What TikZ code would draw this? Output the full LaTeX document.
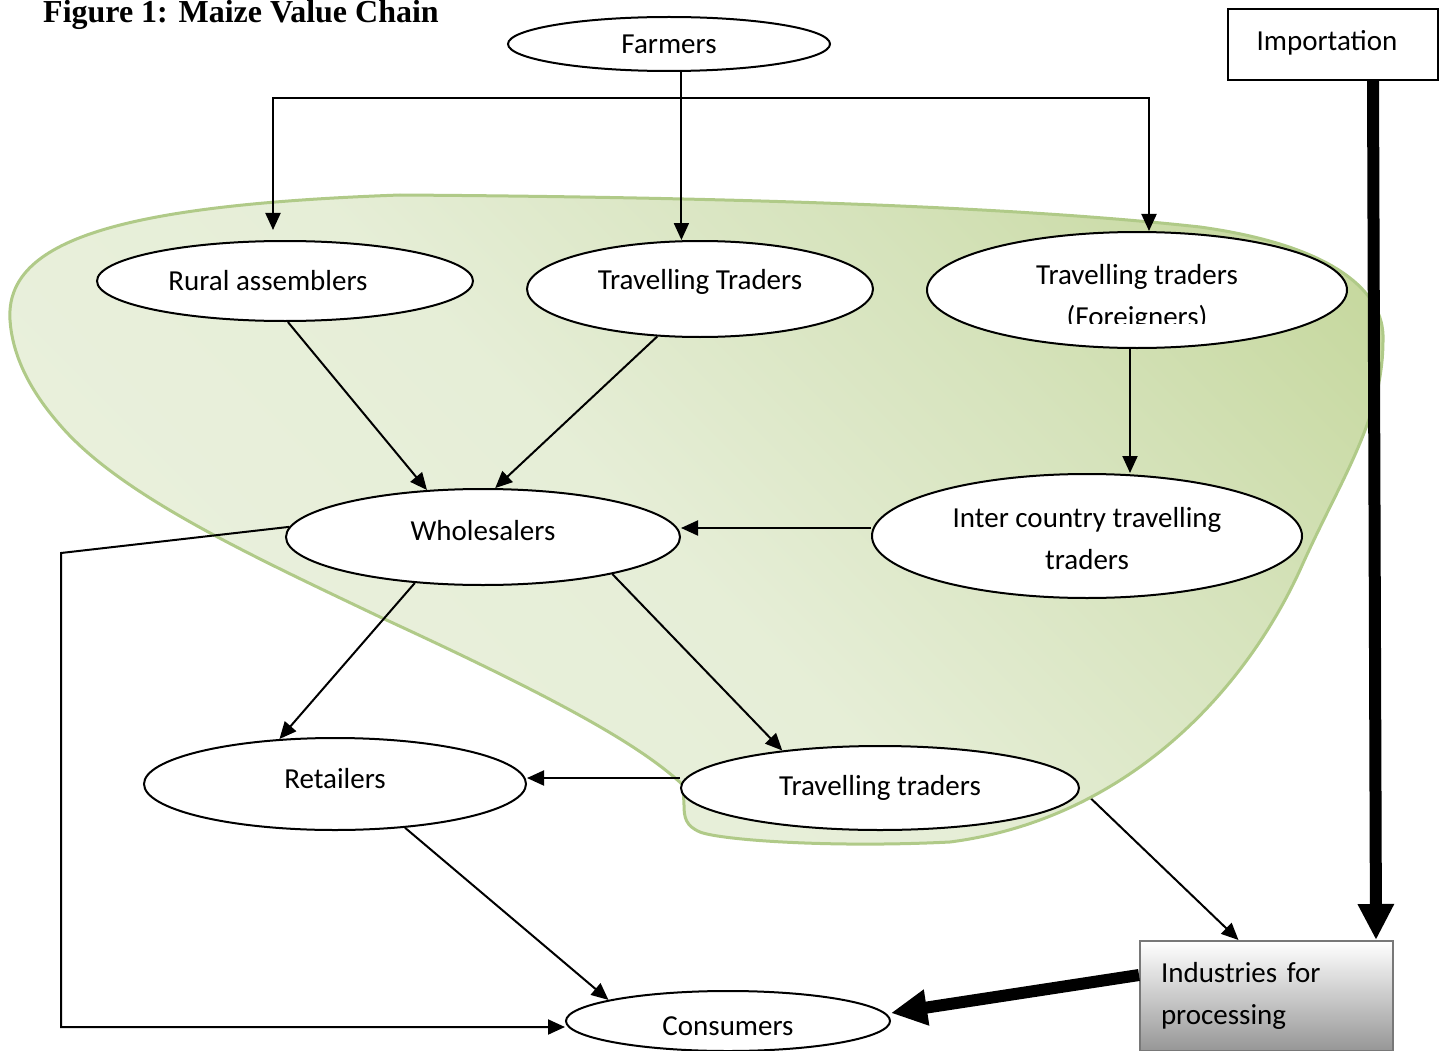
\documentclass[tikz,border=0pt]{standalone}
\usepackage{fontspec}
\setmainfont{Carlito}
\newfontfamily\titlefont{Liberation Serif}
\usetikzlibrary{arrows.meta,shapes.geometric,calc}
\definecolor{blobA}{RGB}{238,243,228}
\definecolor{blobB}{RGB}{230,238,215}
\definecolor{blobC}{RGB}{214,227,188}
\definecolor{blobD}{RGB}{198,216,158}
\definecolor{blobE}{RGB}{186,207,142}
\definecolor{blobedge}{RGB}{176,202,136}
\definecolor{boxgray}{RGB}{150,150,150}
\definecolor{boxedge}{RGB}{120,120,120}
\pgfdeclareverticalshading{blobshade}{100bp}{color(0bp)=(blobA); color(48bp)=(blobB); color(66bp)=(blobC); color(82bp)=(blobD); color(100bp)=(blobE)}
\pgfdeclarelayer{bg}
\pgfdeclarelayer{blob}
\pgfsetlayers{bg,blob,main}
\begin{document}
\begin{tikzpicture}[x=1pt,y=-1pt,
  ell/.style={ellipse,draw,line width=2pt,fill=white,inner sep=0pt,font=\fontsize{29}{42}\selectfont,align=center},
  lbl/.style={font=\fontsize{29}{42}\selectfont,align=center,inner sep=0pt},
  arr/.style={line width=2pt,-{Triangle[length=17pt,width=15pt]}},
  fat/.style={line width=12pt,-{Triangle[length=36pt,width=34pt]}}]
\useasboundingbox (0,0) rectangle (1445,1051);
\clip (0,0) rectangle (1445,1051);

% title
\node[anchor=base west,inner sep=0pt,font=\titlefont\bfseries\fontsize{32}{38}\selectfont] (title) at (43,23) {Figure 1: Maize Value Chain};

% nodes
\node[ell,minimum width=322pt,minimum height=54pt] (farm) at (669,44) {Farmers};
\node[draw,line width=2pt,fill=white,minimum width=210pt,minimum height=71pt,inner sep=0pt,font=\fontsize{29}{42}\selectfont,text depth=8pt] (imp) at (1333,44.5) {Importation\hspace*{12pt}};
\node[ell,minimum width=376pt,minimum height=80pt] (rural) at (285,281) {Rural assemblers\hspace*{34pt}};
\node[ell,minimum width=346pt,minimum height=96pt,text depth=20pt] (tt) at (700,289) {Travelling Traders};
\node[ell,minimum width=420pt,minimum height=116pt] (ttf) at (1137,290) {};
\begin{scope}
  \clip (920,220) rectangle (1360,323);
  \node[lbl,anchor=base] (ttftxt) at (1137,326) {Travelling traders\\(Foreigners)};
\end{scope}
\node[ell,minimum width=394pt,minimum height=96pt,text depth=14pt] (whole) at (483,537) {Wholesalers};
\node[ell,minimum width=430pt,minimum height=124pt] (inter) at (1087,536) {};
\node[lbl,anchor=base] (intertxt) at (1087,569) {Inter country travelling\\traders};
\node[ell,minimum width=382pt,minimum height=92pt,text depth=12pt] (ret) at (335,784) {Retailers};
\node[ell,minimum width=398pt,minimum height=84pt] (tt2) at (880,788) {Travelling traders};
\node[ell,minimum width=324pt,minimum height=60pt,text height=28pt,text depth=0pt] (cons) at (728,1021) {Consumers};
\node[draw=boxedge,line width=2pt,top color=white,bottom color=boxgray,minimum width=253pt,minimum height=110pt,inner sep=0pt,text width=211pt,align=left,font=\fontsize{29}{42}\selectfont] (ind) at (1266.5,996) {Industries for\\processing};

% blob
\begin{pgfonlayer}{blob}
\path[shading=blobshade,shading angle=-45,draw=blobedge,line width=3pt]
  (10,320) .. controls (5,240) and (120,205) .. (400,195)
  .. controls (700,197) and (1000,205) .. (1200,227)
  .. controls (1330,245) and (1385,290) .. (1383,340)
  .. controls (1383,420) and (1340,480) .. (1300,570)
  .. controls (1240,700) and (1120,820) .. (950,842)
  .. controls (830,848) and (720,840) .. (700,832)
  .. controls (686,826) and (684,818) .. (684,805)
  -- (683,785)
  .. controls (640,745) and (560,700) .. (380,617)
  .. controls (250,555) and (120,495) .. (60,425)
  .. controls (25,385) and (12,350) .. cycle;
\end{pgfonlayer}

% connectors
\coordinate (jn) at (681,98);
\coordinate (lc) at (61,553);
\draw[arr] (farm.-66) -- (farm.-66 |- tt.north);
\draw[arr] (jn) -| ([xshift=-12pt,yshift=10pt]rural.north);
\draw[arr] (jn) -| ([xshift=12pt]ttf.north);
\draw[arr] (rural.-86) -- (whole.140);
\draw[arr] (tt.-132) -- (whole.76);
\draw[arr] ([xshift=-7pt]ttf.south) -- ([xshift=-7pt]ttf.south |- inter.north);
\draw[arr] ([yshift=8pt]inter.west) -- ([yshift=8pt]inter.west -| whole.east);
\draw[arr] (whole.177) -- (lc) |- ([yshift=-6pt]cons.west);
\draw[arr] (whole.-146) -- (ret.141);
\draw[arr] (whole.-16) -- (tt2.159);
\draw[arr] ([yshift=10pt]tt2.west) -- ([yshift=10pt]tt2.west -| ret.east);
\draw[arr] (ret.-32) -- (cons.170);
\begin{pgfonlayer}{bg}
\draw[arr] (tt2.east) -- ([xshift=-28pt]ind.north);
\end{pgfonlayer}
\draw[fat] ([xshift=40pt]imp.south) -- ([xshift=109.5pt]ind.north);
\draw[fat] ([yshift=21pt]ind.west) -- ([yshift=8pt]cons.east);
\end{tikzpicture}
\end{document}
